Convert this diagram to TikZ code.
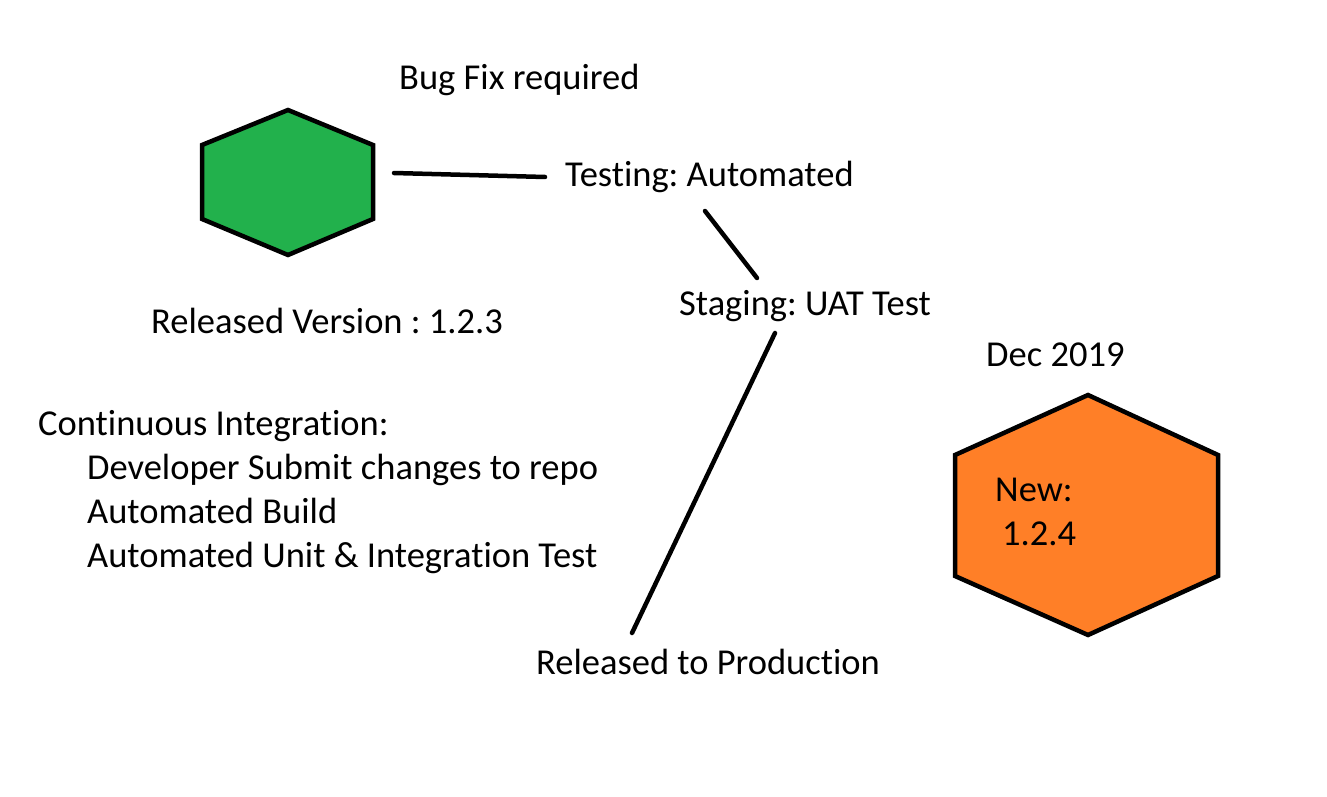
\documentclass[tikz,border=0pt]{standalone}
\usepackage{fontspec}
\setmainfont{Carlito}[Ligatures=NoCommon]
\frenchspacing
\definecolor{hexgreen}{HTML}{22B14C}
\definecolor{hexorange}{HTML}{FF7F27}
\tikzset{
  lbl/.style={anchor=base west, inner sep=0pt, font=\fontsize{36.5}{43}\selectfont},
  hexa/.style={draw=black, line width=4.5pt, line join=miter},
  conn/.style={draw=black, line width=4.5pt, line cap=round}
}
\begin{document}
\begin{tikzpicture}[x=1pt,y=-1pt]
\useasboundingbox (0,0) rectangle (1327,797);
% green hexagon
\path[hexa, fill=hexgreen] (288,110) -- (373,145) -- (373,219) -- (288,255) -- (202,219) -- (202,145) -- cycle;
% orange hexagon
\path[hexa, fill=hexorange] (1088,395) -- (1218,455) -- (1218,576) -- (1088,635) -- (955,576) -- (955,455) -- cycle;
% texts
\node[lbl] (bug) at (399,90) {Bug Fix required};
\node[lbl] (test) at (565,186) {Testing: Automated};
\node[lbl] (stag) at (679,315) {Staging: UAT Test};
\node[lbl] (rel) at (151,333) {Released Version : 1.2.3};
\node[lbl] (dec) at (986,366) {Dec 2019};
\node[lbl] (new) at (995,501) {New:};
\node[lbl] (ver) at (1002,545) {1.2.4};
\node[lbl] (ci) at (38,435) {Continuous Integration:};
\node[lbl] (ci1) at (87,479) {Developer Submit changes to repo};
\node[lbl] (ci2) at (87,523) {Automated Build};
\node[lbl] (ci3) at (87,567) {Automated Unit \& Integration Test};
\node[lbl] (prod) at (536,674) {Released to Production};
% connectors
\coordinate (a1) at (394,173);
\coordinate (a2) at (545,177);
\coordinate (b1) at (705,211);
\coordinate (b2) at (757,278);
\coordinate (c1) at (775,333);
\coordinate (c2) at (632,633);
\path[conn] (a1) -- (a2);
\path[conn] (b1) -- (b2);
\path[conn] (c1) -- (c2);
\end{tikzpicture}
\end{document}
